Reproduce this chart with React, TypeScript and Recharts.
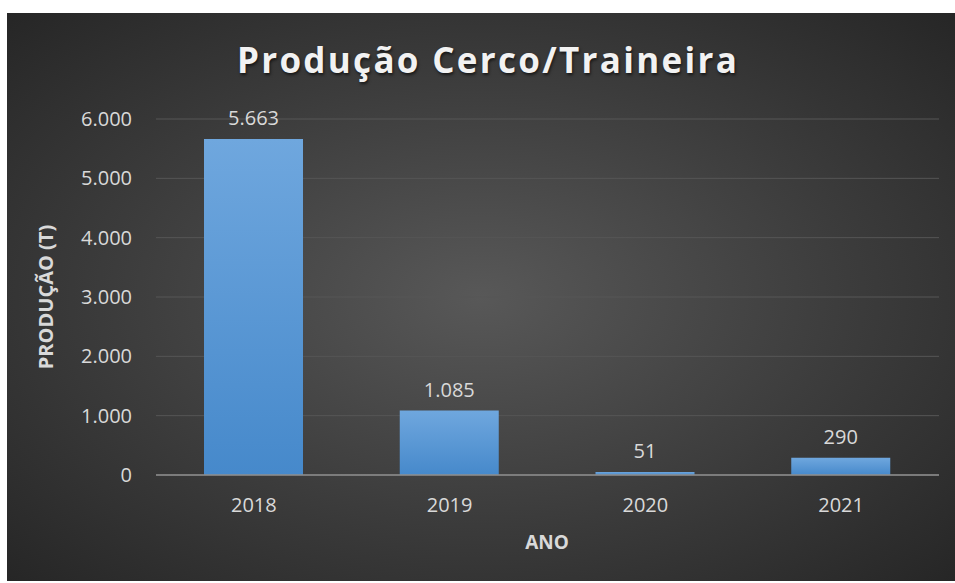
import React from 'react'
import { BarChart, Bar, XAxis, YAxis, CartesianGrid, LabelList } from 'recharts'

// dados
const anos = ['2018', '2019', '2020', '2021']
const producao = [5663, 1085, 51, 290]
const yTicks = [0, 1000, 2000, 3000, 4000, 5000, 6000]

const data = anos.map((ano, i) => ({ ano, producao: producao[i] }))

const fmt = (v: number) => String(v).replace(/\B(?=(\d{3})+(?!\d))/g, '.')

const FONT = '"Open Sans", "DejaVu Sans", sans-serif'
const W = 948
const H = 568

export default function App() {
  return (
    <div
      style={{
        position: 'absolute',
        left: 7,
        top: 13,
        width: W,
        height: H,
        background: 'radial-gradient(ellipse at center, #585858 0%, #3c3c3c 55%, #262626 100%)',
        fontFamily: FONT,
      }}
    >
      <div
        style={{
          position: 'absolute',
          left: 7,
          top: 23,
          width: W,
          textAlign: 'center',
          fontSize: 35,
          fontWeight: 700,
          letterSpacing: 2.3,
          color: '#f2f2f2',
          textShadow: '1px 2px 3px rgba(0,0,0,0.6)',
        }}
      >
        Produção Cerco/Traineira
      </div>
      <div
        style={{
          position: 'absolute',
          left: 38,
          top: 284,
          transform: 'translate(-50%, -50%) rotate(-90deg)',
          fontSize: 20,
          fontWeight: 700,
          color: '#d9d9d9',
          whiteSpace: 'nowrap',
        }}
      >
        PRODUÇÃO (T)
      </div>
      <div
        style={{
          position: 'absolute',
          left: 540,
          top: 529,
          transform: 'translate(-50%, -50%)',
          fontSize: 19,
          fontWeight: 700,
          color: '#d9d9d9',
        }}
      >
        ANO
      </div>
      <BarChart
        width={W}
        height={H}
        data={data}
        margin={{ top: 106, right: 16, left: 0, bottom: 0 }}
        style={{ position: 'absolute', left: 0, top: 0 }}
      >
        <defs>
          <linearGradient id="barFill" x1="0" y1="0" x2="0" y2="1">
            <stop offset="0%" stopColor="#6fa7de" />
            <stop offset="100%" stopColor="#4689cb" />
          </linearGradient>
        </defs>
        <CartesianGrid vertical={false} stroke="#565656" strokeWidth={1} />
        <XAxis
          dataKey="ano"
          height={106}
          tickLine={false}
          axisLine={{ stroke: '#8e8e8e', strokeWidth: 1.5 }}
          tickMargin={17}
          tick={{ fill: '#d9d9d9', fontSize: 20, fontFamily: FONT }}
        />
        <YAxis
          width={149}
          domain={[0, 6000]}
          ticks={yTicks}
          tickFormatter={fmt}
          axisLine={false}
          tickLine={false}
          tickMargin={18}
          tick={{ fill: '#d9d9d9', fontSize: 20, fontFamily: FONT }}
        />
        <Bar dataKey="producao" fill="url(#barFill)" barSize={99} isAnimationActive={false}>
          <LabelList
            dataKey="producao"
            position="top"
            offset={14}
            formatter={(v: number) => fmt(v)}
            style={{ fill: '#d9d9d9', fontSize: 20, fontFamily: FONT }}
          />
        </Bar>
      </BarChart>
    </div>
  )
}
